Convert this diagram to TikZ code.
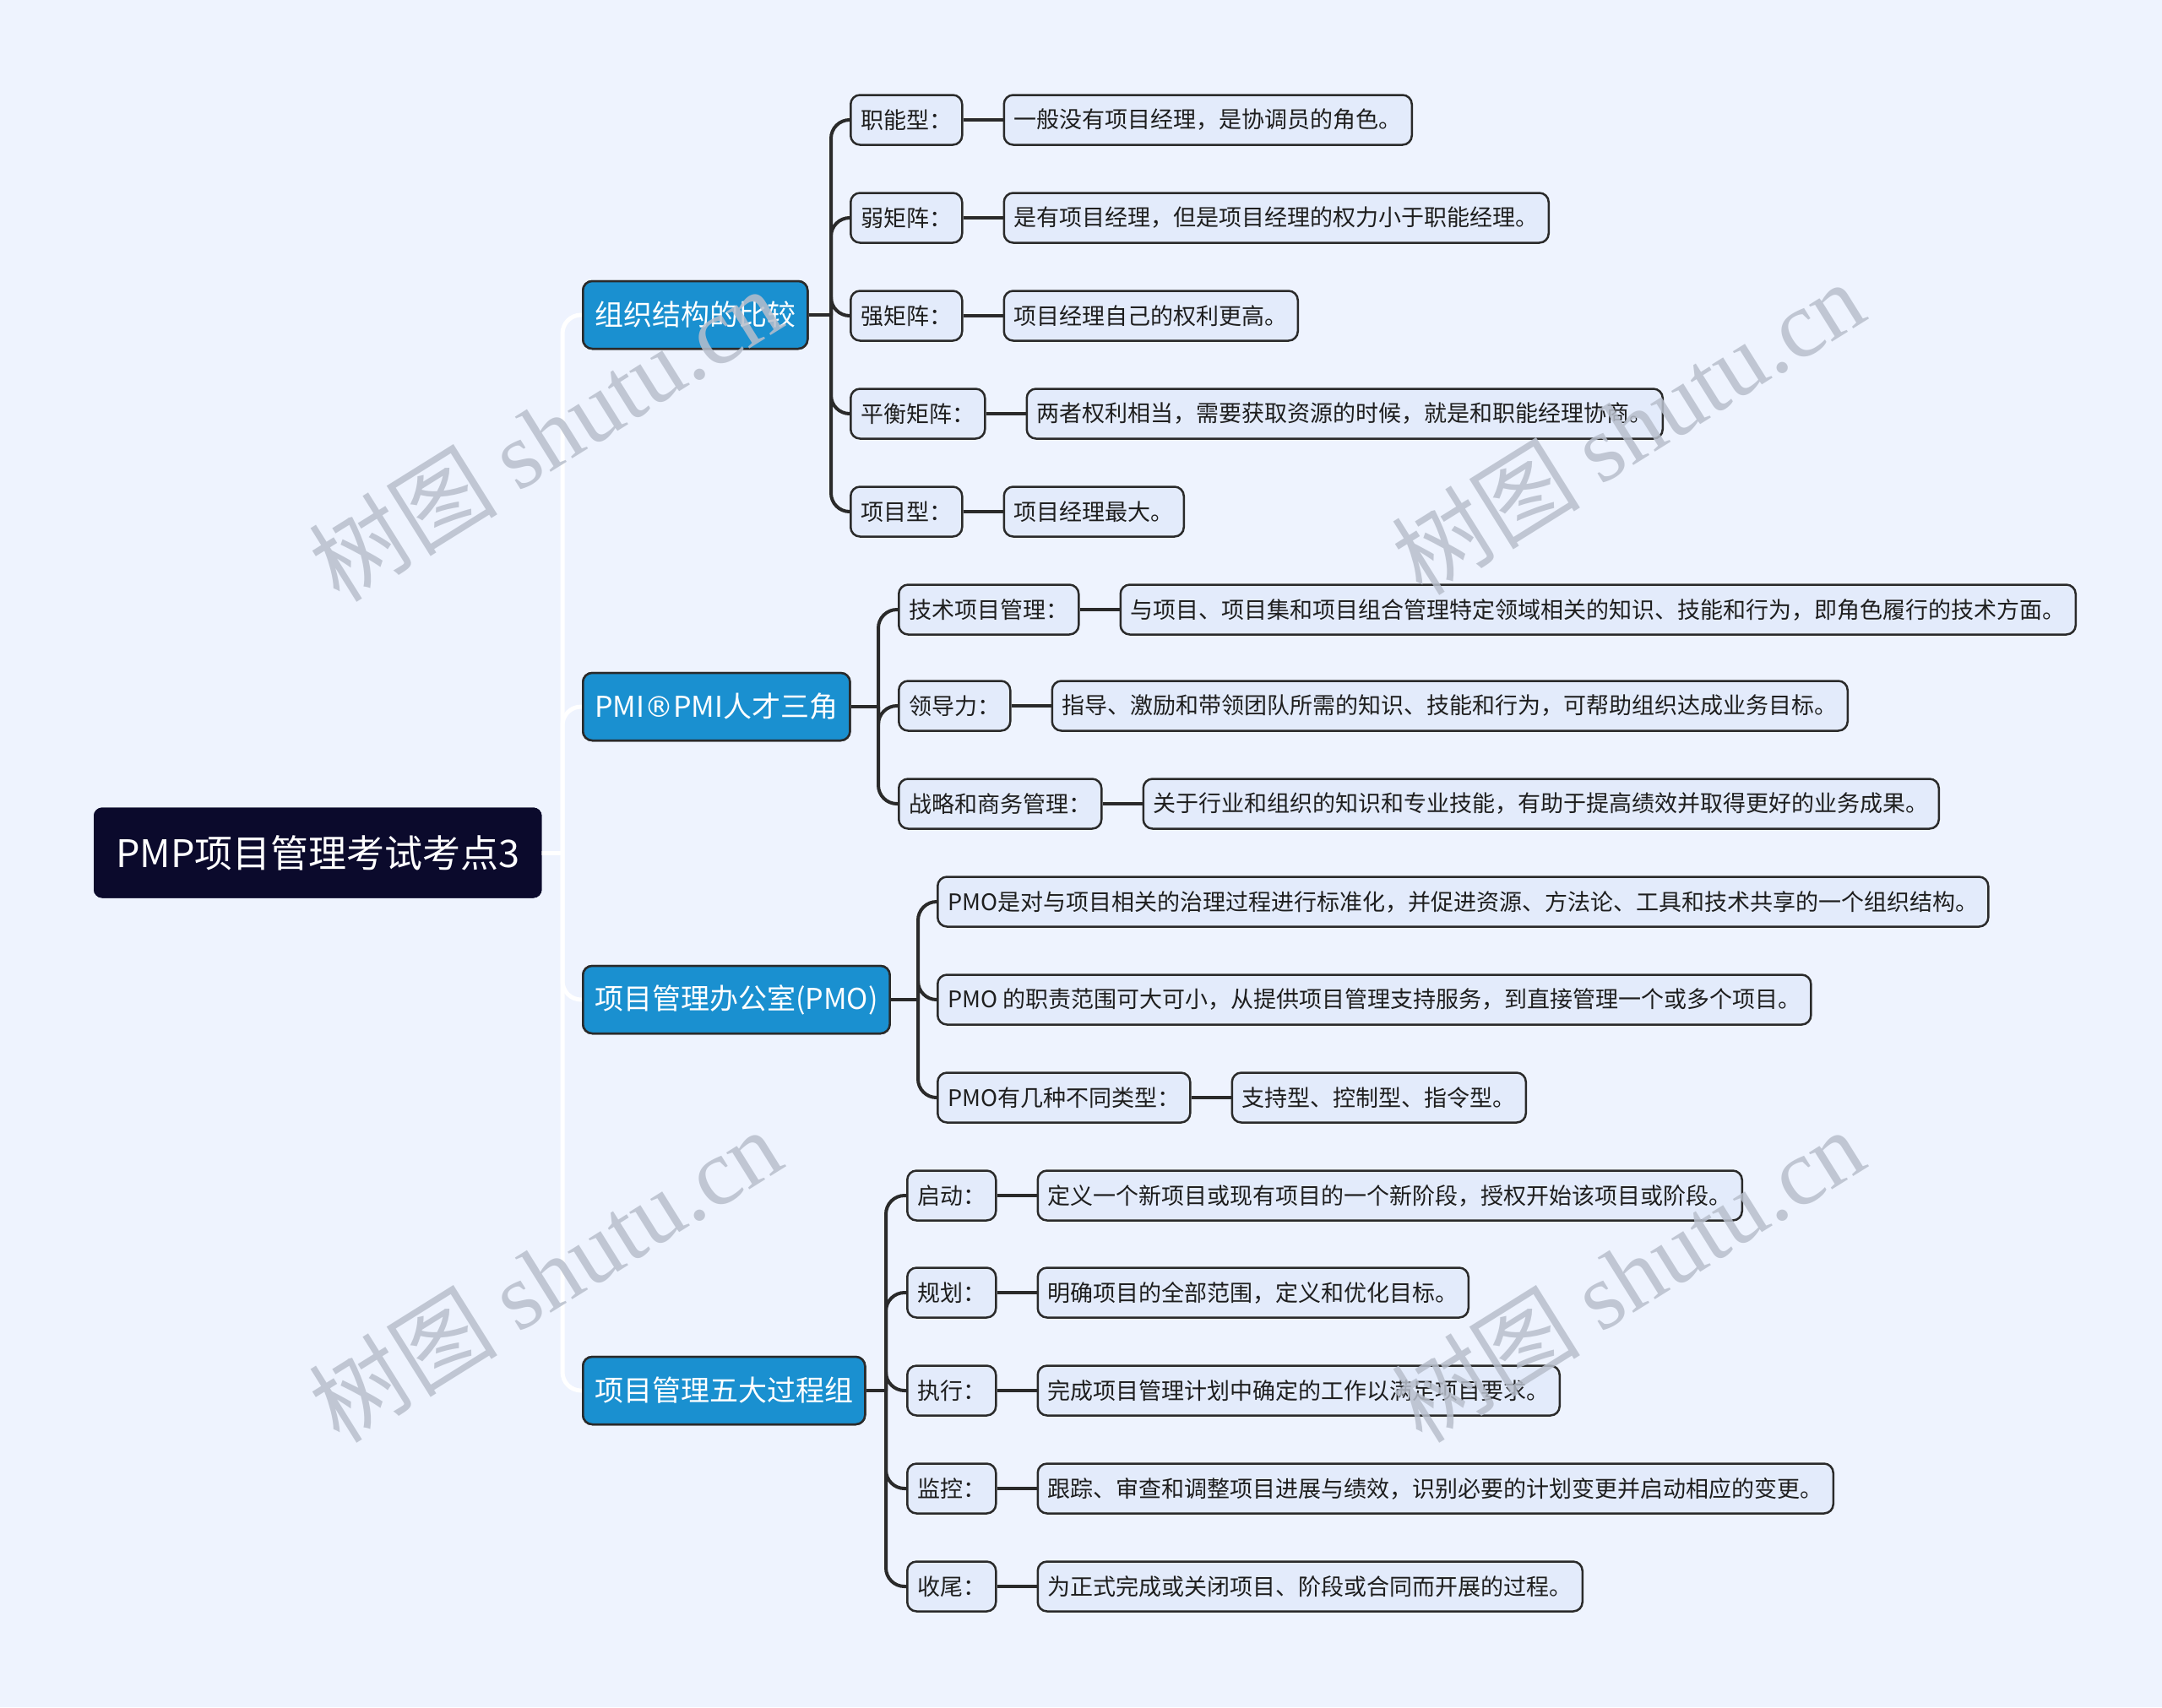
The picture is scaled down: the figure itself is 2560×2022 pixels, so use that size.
\documentclass[tikz,border=0pt]{standalone}
\usepackage{fontspec}
\setmainfont{Noto Sans CJK SC}
\newfontfamily\wmlatin{Liberation Serif}
\newfontfamily\regfont{DejaVu Sans}
\usetikzlibrary{positioning,calc}
\definecolor{bgc}{HTML}{EEF3FE}
\definecolor{rootc}{HTML}{0B0A2C}
\definecolor{lonec}{HTML}{1A90D0}
\definecolor{boxc}{HTML}{E3EBFB}
\definecolor{linec}{HTML}{2A2A2A}
\definecolor{txtc}{HTML}{1E1E1E}
\definecolor{wmc}{HTML}{B8BFCC}
\tikzset{
  rootnode/.style={draw=rootc,fill=rootc,line width=2pt,rounded corners=9pt,text=white,
    font=\fontsize{45}{54}\selectfont,inner xsep=25pt,inner ysep=0pt,minimum height=105pt,anchor=west},
  lone/.style={draw=linec,fill=lonec,line width=2.5pt,rounded corners=11pt,text=white,
    font=\fontsize{34}{40}\selectfont,inner xsep=14pt,inner ysep=0pt,minimum height=80pt,anchor=west},
  ltwo/.style={draw=linec,fill=boxc,line width=2.5pt,rounded corners=11pt,text=txtc,
    font=\fontsize{27}{32}\selectfont,inner xsep=12pt,inner ysep=0pt,minimum height=59pt,anchor=west},
  leaf/.style={ltwo},
  wline/.style={draw=white,line width=5pt,rounded corners=22pt},
  dline/.style={draw=linec,line width=4pt,rounded corners=22pt},
  hline/.style={draw=linec,line width=4.5pt},
  wm/.style={text=wmc,opacity=0.85,rotate=32,font=\fontsize{112}{120}\selectfont,inner sep=0pt}
}
\begin{document}
\begin{tikzpicture}[x=1pt,y=-1pt]
\fill[bgc] (0,0) rectangle (2560,2022);
\useasboundingbox (0,0) rectangle (2560,2022);

% root
\node[rootnode] (root) at (111,1010) {PMP项目管理考试考点3};

% level 1
\node[lone] (la) at (689,373) {组织结构的比较};
\node[lone] (lb) at (689,837) {PMI{\regfont ®}PMI人才三角};
\node[lone] (lc) at (689,1184) {项目管理办公室(PMO)};
\node[lone] (ld) at (689,1647) {项目管理五大过程组};

% group 1
\node[ltwo] (a1) at (1006,142) {职能型：};
\node[ltwo] (a2) at (1006,258) {弱矩阵：};
\node[ltwo] (a3) at (1006,374) {强矩阵：};
\node[ltwo] (a4) at (1006,490) {平衡矩阵：};
\node[ltwo] (a5) at (1006,606) {项目型：};
\node[leaf,right=47pt of a1] (a1x) {一般没有项目经理，是协调员的角色。};
\node[leaf,right=47pt of a2] (a2x) {是有项目经理，但是项目经理的权力小于职能经理。};
\node[leaf,right=47pt of a3] (a3x) {项目经理自己的权利更高。};
\node[leaf,right=47pt of a4] (a4x) {两者权利相当，需要获取资源的时候，就是和职能经理协商。};
\node[leaf,right=47pt of a5] (a5x) {项目经理最大。};

% group 2
\node[ltwo] (b1) at (1063,722) {技术项目管理：};
\node[ltwo] (b2) at (1063,836) {领导力：};
\node[ltwo] (b3) at (1063,952) {战略和商务管理：};
\node[leaf,right=47pt of b1] (b1x) {与项目、项目集和项目组合管理特定领域相关的知识、技能和行为，即角色履行的技术方面。};
\node[leaf,right=47pt of b2] (b2x) {指导、激励和带领团队所需的知识、技能和行为，可帮助组织达成业务目标。};
\node[leaf,right=47pt of b3] (b3x) {关于行业和组织的知识和专业技能，有助于提高绩效并取得更好的业务成果。};

% group 3
\node[ltwo] (c1) at (1109,1068) {PMO是对与项目相关的治理过程进行标准化，并促进资源、方法论、工具和技术共享的一个组织结构。};
\node[ltwo] (c2) at (1109,1184) {PMO 的职责范围可大可小，从提供项目管理支持服务，到直接管理一个或多个项目。};
\node[ltwo] (c3) at (1109,1300) {PMO有几种不同类型：};
\node[leaf,right=47pt of c3] (c3x) {支持型、控制型、指令型。};

% group 4
\node[ltwo] (d1) at (1073,1416) {启动：};
\node[ltwo] (d2) at (1073,1531) {规划：};
\node[ltwo] (d3) at (1073,1647) {执行：};
\node[ltwo] (d4) at (1073,1763) {监控：};
\node[ltwo] (d5) at (1073,1879) {收尾：};
\node[leaf,right=47pt of d1] (d1x) {定义一个新项目或现有项目的一个新阶段，授权开始该项目或阶段。};
\node[leaf,right=47pt of d2] (d2x) {明确项目的全部范围，定义和优化目标。};
\node[leaf,right=47pt of d3] (d3x) {完成项目管理计划中确定的工作以满足项目要求。};
\node[leaf,right=47pt of d4] (d4x) {跟踪、审查和调整项目进展与绩效，识别必要的计划变更并启动相应的变更。};
\node[leaf,right=47pt of d5] (d5x) {为正式完成或关闭项目、阶段或合同而开展的过程。};

% trunk coordinates
\coordinate (t0) at ([xshift=-23pt]root.east -| la.west);
\coordinate (ta) at ([xshift=-22pt]la.east -| a1.west);
\coordinate (tb) at ([xshift=-23pt]lb.east -| b1.west);
\coordinate (tc) at ([xshift=-22pt]lc.east -| c1.west);
\coordinate (td) at ([xshift=-24pt]ld.east -| d1.west);

% root connectors (white)
\draw[wline] (root.east) -- (t0);
\foreach \n in {la,lb,lc,ld} \draw[wline] (t0) |- (\n.west);

% level-1 to level-2
\draw[hline] (la.east) -- (ta);
\foreach \n in {a1,a2,a3,a4,a5} \draw[dline] (ta) |- (\n.west);
\draw[hline] (lb.east) -- (tb);
\foreach \n in {b1,b2,b3} \draw[dline] (tb) |- (\n.west);
\draw[hline] (lc.east) -- (tc);
\foreach \n in {c1,c2,c3} \draw[dline] (tc) |- (\n.west);
\draw[hline] (ld.east) -- (td);
\foreach \n in {d1,d2,d3,d4,d5} \draw[dline] (td) |- (\n.west);

% level-2 to leaves
\foreach \n in {a1,a2,a3,a4,a5,b1,b2,b3,d1,d2,d3,d4,d5} \draw[hline] (\n.east) -- (\n x.west);
\draw[hline] (c3.east) -- (c3x.west);

% redraw nodes above the connectors
\node[rootnode] at (root.west) {PMP项目管理考试考点3};
\node[lone] at (la.west) {组织结构的比较};
\node[lone] at (lb.west) {PMI{\regfont ®}PMI人才三角};
\node[lone] at (lc.west) {项目管理办公室(PMO)};
\node[lone] at (ld.west) {项目管理五大过程组};

% watermarks
\node[wm] (w1) at (645,514) {树图 {\wmlatin shutu.cn}};
\node[wm] (w2) at (1927,506) {树图 {\wmlatin shutu.cn}};
\node[wm] (w3) at (645,1510) {树图 {\wmlatin shutu.cn}};
\node[wm] (w4) at (1927,1510) {树图 {\wmlatin shutu.cn}};
\end{tikzpicture}
\end{document}
